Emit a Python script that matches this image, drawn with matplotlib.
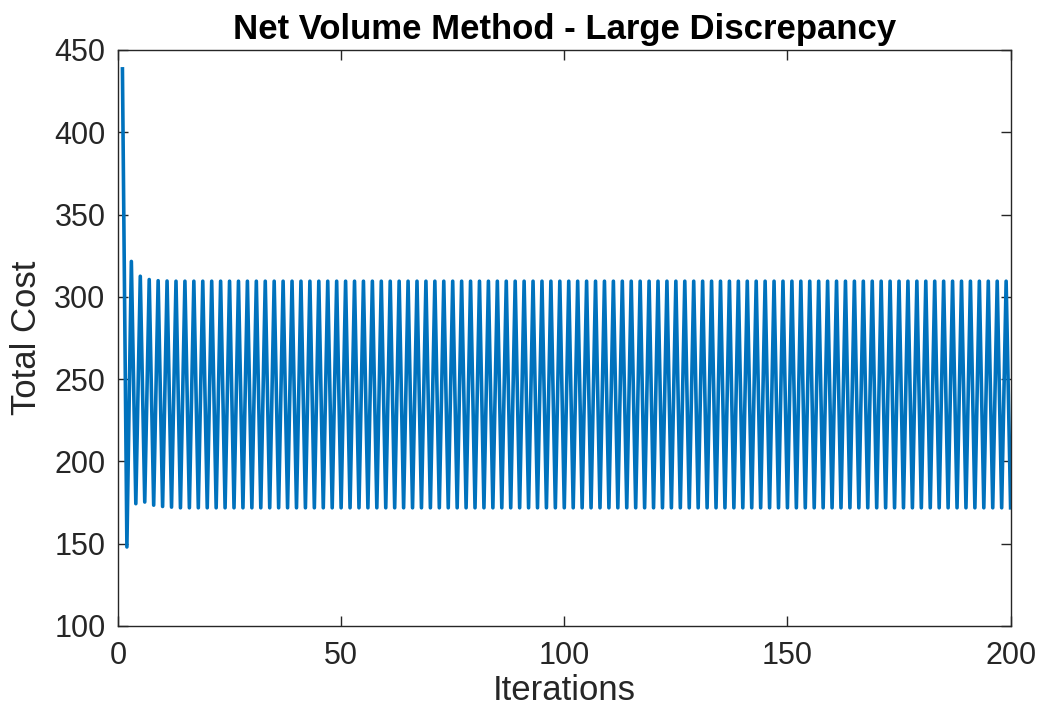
import numpy as np
import matplotlib.pyplot as plt

plt.rcParams['font.family'] = ['Liberation Sans', 'DejaVu Sans']

# cost per iteration: start-up transient, then a steady two-step oscillation
start = [438.5, 148.0, 321.5, 174.3, 312.5, 175.3, 310.5, 173.4, 309.8, 172.6,
         309.6, 172.2]
steady = [309.5, 171.8] * 94
cost = np.array(start + steady)
it = np.arange(1, len(cost) + 1)

xticks = [0, 50, 100, 150, 200]
yticks = [100, 150, 200, 250, 300, 350, 400, 450]

fig = plt.figure(figsize=(10.44, 7.25), dpi=100)
ax = fig.add_axes([0.113, 0.1366, 0.855, 0.7945])
ax.plot(it, cost, color='#0072BD', lw=2.6)

ax.set_xlim(0, 200)
ax.set_ylim(100, 450)
ax.set_xticks(xticks)
ax.set_yticks(yticks)
ax.tick_params(direction='in', length=7, width=1, top=True, right=True,
               labelsize=22, colors='#262626')
ax.tick_params(axis='x', pad=11)
ax.tick_params(axis='y', pad=9)
for s in ax.spines.values():
    s.set_color('#262626')
    s.set_linewidth(1)

ax.set_xlabel('Iterations', fontsize=25, color='#262626', labelpad=2)
ax.set_ylabel('Total Cost', fontsize=25, color='#262626', labelpad=8)
ax.set_title('Net Volume Method - Large Discrepancy', fontsize=25,
             fontweight='bold', pad=8)

fig.savefig('out.png', dpi=100, facecolor='white')
